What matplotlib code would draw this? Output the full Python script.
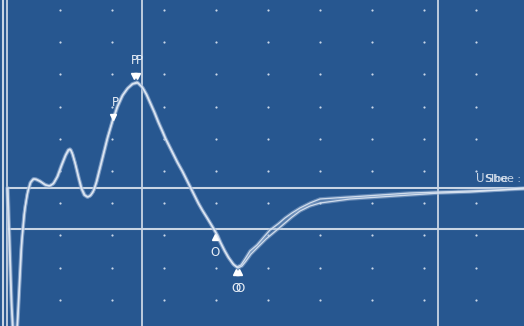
import matplotlib
matplotlib.use("Agg")
import matplotlib.pyplot as plt
import numpy as np

# trace values: x in px-like time units, y amplitude (baseline = 0, up positive)
t1 = [7, 9, 11, 13, 15, 17, 19, 21, 24, 27, 30, 33, 36, 40, 45, 49, 53, 57, 61, 65, 68,
      70, 72, 75, 78, 81, 84, 87, 90, 93, 96, 99, 103, 107, 112, 117, 122, 127, 132, 137,
      142, 146, 150, 154, 158, 162, 165, 169, 173, 177, 182, 186, 190, 194, 198, 202,
      207, 210, 213, 217, 220, 224, 228, 233, 237, 241, 245, 250, 257, 263, 270, 278,
      285, 292, 300, 310, 320, 335, 350, 380, 410, 440, 470, 500, 524]
a1 = [0, -50, -110, -150, -160, -140, -102, -62, -27, -7, 5, 9, 9, 7, 3, 2, 4, 11, 22, 32, 38,
      39, 35, 25, 12, 0, -7, -9, -8, -4, 5, 17, 33, 49, 66, 81, 92, 99, 104, 106,
      101, 94, 85, 76, 66, 57, 50, 42, 34, 26, 17, 9, 1, -7, -15, -22,
      -30, -35, -40, -47, -54, -62, -69, -76, -79, -77, -71, -63, -57, -50, -42, -36,
      -30, -25, -20, -15, -11, -10, -9, -7, -5, -4, -3, -2, 0]

t2 = [8, 10, 12, 14, 16, 18, 20, 22, 25, 28, 31, 34, 37, 41, 46, 50, 54, 58, 62, 66, 69,
      71, 73, 76, 79, 82, 85, 88, 91, 94, 97, 100, 104, 108, 113, 118, 123, 128, 133, 138,
      143, 147, 151, 155, 159, 163, 166, 170, 174, 178, 183, 187, 191, 195, 199, 203,
      208, 211, 214, 218, 221, 225, 229, 234, 238, 242, 246, 251, 256, 260, 266, 272,
      278, 285, 292, 300, 310, 320, 335, 350, 380, 410, 440, 470, 500, 524]
a2 = [0, -60, -120, -155, -160, -130, -90, -52, -20, -3, 6, 9, 8, 6, 3, 2, 5, 12, 23, 33, 38,
      38, 33, 22, 10, -1, -7, -9, -7, -2, 7, 19, 35, 51, 68, 82, 93, 100, 104, 105,
      100, 93, 84, 75, 65, 56, 49, 41, 33, 25, 16, 8, 0, -8, -16, -23,
      -31, -36, -41, -48, -55, -63, -70, -77, -80, -78, -73, -66, -61, -57, -51, -46,
      -41, -35, -29, -23, -18, -15, -13, -11, -9, -7, -5, -4, -2, -1]

# annotations
mark_t = [113, 134, 137, 215, 236, 239]
mark_a = [71, 112, 112, -49, -84, -84]
mark_dir = ['v', 'v', 'v', '^', '^', '^']
labels = [("P", 115, 85), ("P", 134, 127), ("P", 139, 127),
          ("O", 215, -65), ("O", 236, -101), ("O", 240, -101)]

bg = '#275790'
fig = plt.figure(figsize=(5.24, 3.26), dpi=100)
ax = fig.add_axes([0, 0, 1, 1])
ax.set_facecolor(bg)
ax.set_xlim(0, 524)
ax.set_ylim(-138, 188)
ax.axis('off')
ax.add_patch(plt.Rectangle((0, -138), 524, 326, color=bg, zorder=0))

# dotted grid
gx = np.arange(60, 524, 52)
gy = np.arange(178, -140, -32.2)
GX, GY = np.meshgrid(gx, gy)
ax.scatter(GX.ravel(), GY.ravel(), s=2.5, color='#c8d6e8', lw=0, zorder=1)

# reference lines
lc = '#c9d5e4'
ax.axhline(0, xmin=8 / 524, color=lc, lw=1.5, zorder=2)
ax.axhline(-41, xmin=8 / 524, color=lc, lw=1.5, zorder=2)
ax.axvline(142, color=lc, lw=1.3, zorder=2)
ax.axvline(438, color=lc, lw=1.3, zorder=2)
ax.axvline(3, color=lc, lw=1.5, zorder=2)
ax.axvline(7, color=lc, lw=1.3, zorder=2)

# traces with soft glow
for t, a in [(t1, a1), (t2, a2)]:
    ax.plot(t, a, color='#9fb7d8', lw=2.6, alpha=0.5, zorder=3, solid_capstyle='round')
    ax.plot(t, a, color='#e3ebf5', lw=0.9, alpha=0.85, zorder=4)

for t, a, m in zip(mark_t, mark_a, mark_dir):
    ax.plot(t, a, marker=m, color='white', ms=4.5, zorder=5)
for s, x, y in labels:
    ax.text(x, y, s, color='#e6edf6', fontsize=8.5, ha='center', va='center', zorder=5)

ax.text(476, 9, "U", color='#c9d5e4', fontsize=8.5, ha='left', va='center', zorder=5)
ax.text(484, 9, "Slbe", color='#e6edf6', fontsize=8, ha='left', va='center', zorder=5)
ax.text(486, 9, "Shoe :", color='#c9d5e4', fontsize=8, ha='left', va='center', zorder=5)

fig.savefig('out.png', dpi=100, facecolor=bg)
